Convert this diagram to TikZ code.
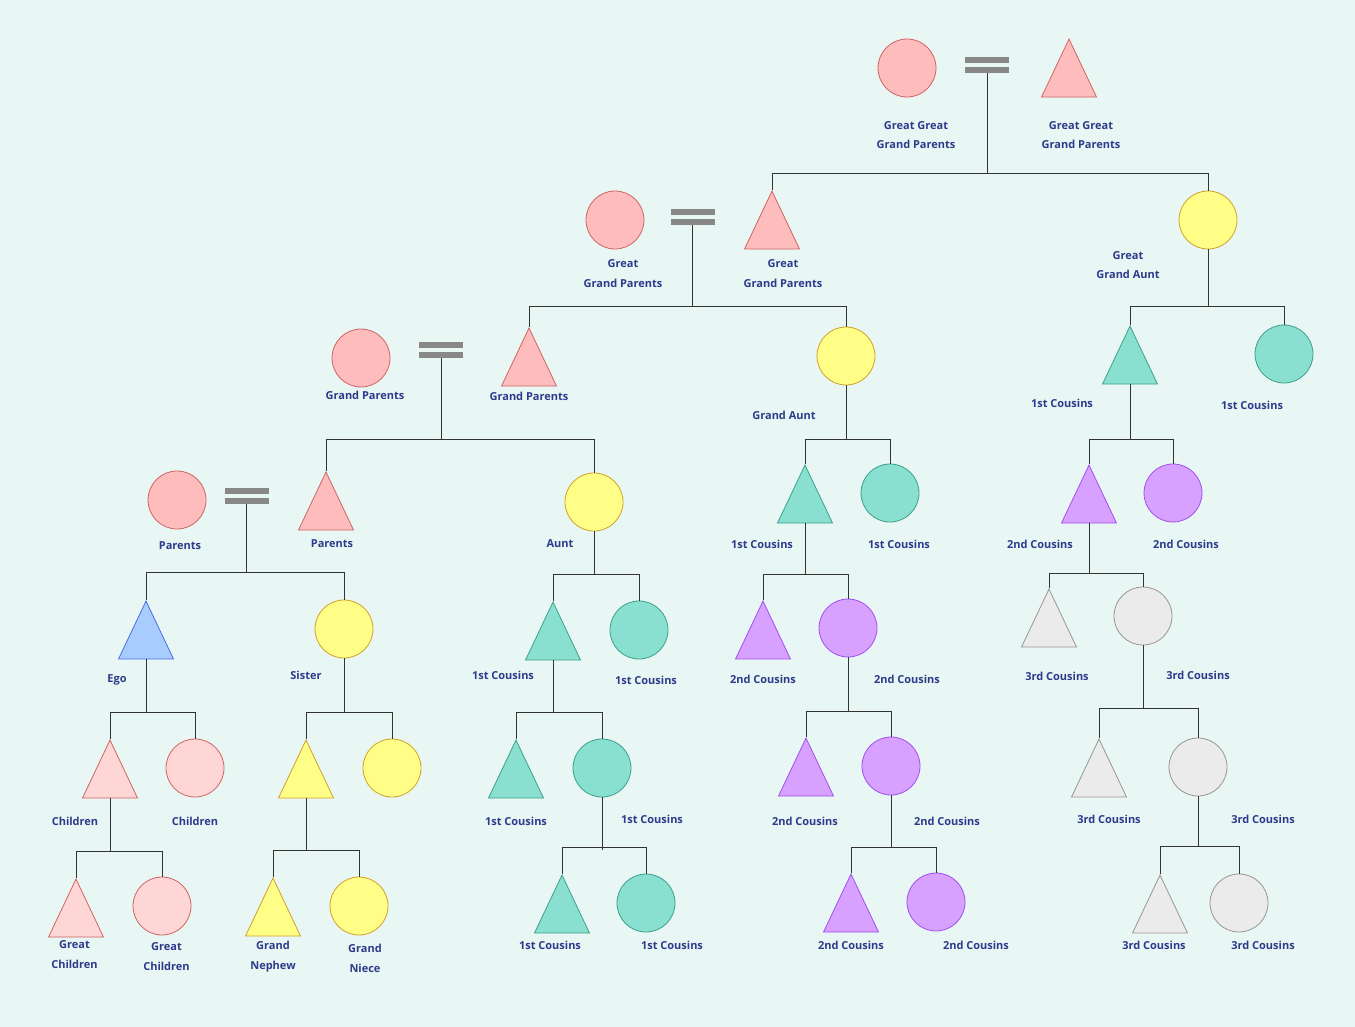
\documentclass[tikz,border=0pt]{standalone}
\usepackage{fontspec}
\setmainfont{Open Sans}
\usetikzlibrary{shapes.geometric}
\definecolor{bg}{RGB}{232,247,243}
\definecolor{txt}{RGB}{46,58,140}
\definecolor{lncol}{RGB}{51,51,51}
\definecolor{bargray}{RGB}{136,136,136}
\definecolor{pinkF}{RGB}{255,188,188}
\definecolor{pinkD}{RGB}{208,100,100}
\definecolor{lpinkF}{RGB}{255,214,214}
\definecolor{yelF}{RGB}{255,255,136}
\definecolor{yelD}{RGB}{210,160,40}
\definecolor{tealF}{RGB}{138,224,208}
\definecolor{tealD}{RGB}{60,160,140}
\definecolor{purF}{RGB}{216,160,255}
\definecolor{purD}{RGB}{160,80,240}
\definecolor{greyF}{RGB}{235,235,235}
\definecolor{greyD}{RGB}{150,150,150}
\definecolor{bluF}{RGB}{169,204,255}
\definecolor{bluD}{RGB}{70,110,230}
\begin{document}
\begin{tikzpicture}[x=1pt,y=-1pt,
  per/.style={circle, draw, minimum size=58pt, inner sep=0pt, line width=0.8pt},
  tri/.style={isosceles triangle, isosceles triangle stretches, shape border rotate=90,
     minimum width=55pt, minimum height=58pt, inner sep=0pt, draw, anchor=apex, line width=0.8pt},
  pk/.style={fill=pinkF, draw=pinkD},
  lp/.style={fill=lpinkF, draw=pinkD},
  ye/.style={fill=yelF, draw=yelD},
  te/.style={fill=tealF, draw=tealD},
  pu/.style={fill=purF, draw=purD},
  gr/.style={fill=greyF, draw=greyD},
  bl/.style={fill=bluF, draw=bluD},
  lbl/.style={text=txt, font=\fontsize{11}{19.5}\selectfont\bfseries, align=center, inner sep=0pt},
  ln/.style={draw=lncol, line width=1pt},
  bar/.style={rectangle, fill=bargray, minimum width=44pt, minimum height=6pt, inner sep=0pt},
]
\fill[bg] (0,0) rectangle (1355,1027);
\useasboundingbox (0,0) rectangle (1355,1027);

% ---------- level 1
\node[per,pk] (ggc) at (907,68) {};
\node[bar] (m1a) at (987,60) {};
\node[bar] (m1) at (987,70) {};
\node[tri,pk] (ggt) at (1069,38) {};
\node[lbl] (lggc) at (916,135) {Great Great\\Grand Parents};
\node[lbl] (lggt) at (1081,135) {Great Great\\Grand Parents};
\coordinate (h1) at (0,174);

% ---------- level 2
\node[per,pk] (gc) at (615,220) {};
\node[bar] (m2a) at (692.5,212) {};
\node[bar] (m2) at (692.5,222) {};
\node[tri,pk] (gt) at (772,190) {};
\node[per,ye] (gga) at (1208,220) {};
\node[lbl] (lgc) at (623,273.5) {Great\\Grand Parents};
\node[lbl] (lgt) at (783,273.5) {Great\\Grand Parents};
\node[lbl] (lgga) at (1128,265) {Great\\Grand Aunt};
\coordinate (h2) at (0,306);

% ---------- level 3
\node[per,pk] (gpc) at (361,358) {};
\node[bar] (m3a) at (441,345) {};
\node[bar] (m3) at (441,355) {};
\node[tri,pk] (gpt) at (529,327) {};
\node[per,ye] (gac) at (846,356) {};
\node[tri,te] (c1t) at (1130,325) {};
\node[per,te] (c1c) at (1284,354) {};
\node[lbl] (lgpc) at (365,395) {Grand Parents};
\node[lbl] (lgpt) at (529,396) {Grand Parents};
\node[lbl] (lgac) at (784,415) {Grand Aunt};
\node[lbl] (lc1t) at (1062,403) {1st Cousins};
\node[lbl] (lc1c) at (1252,405) {1st Cousins};
\coordinate (h3) at (0,439);

% ---------- level 4
\node[per,pk] (pc) at (177,500) {};
\node[bar] (m4a) at (246.5,491) {};
\node[bar] (m4) at (246.5,501) {};
\node[tri,pk] (pt) at (326,471) {};
\node[per,ye] (ac) at (594,502) {};
\node[tri,te] (c1t2) at (805,464) {};
\node[per,te] (c1c2) at (890,493) {};
\node[tri,pu] (c2t) at (1089,464) {};
\node[per,pu] (c2c) at (1173,493) {};
\node[lbl] (lpc) at (180,546) {Parents};
\node[lbl] (lpt) at (332,544) {Parents};
\node[lbl] (lac) at (560,544) {Aunt};
\node[lbl] (lc1t2) at (762,544) {1st Cousins};
\node[lbl] (lc1c2) at (899,544) {1st Cousins};
\node[lbl] (lc2t) at (1040,544) {2nd Cousins};
\node[lbl] (lc2c) at (1186,544) {2nd Cousins};
\coordinate (h4) at (0,572);
\coordinate (h4b) at (0,574);

% ---------- level 5
\node[tri,bl] (ego) at (146,600) {};
\node[per,ye] (sis) at (344,629) {};
\node[tri,te] (c1t3) at (553,601) {};
\node[per,te] (c1c3) at (639,630) {};
\node[tri,pu] (c2t2) at (763,600) {};
\node[per,pu] (c2c2) at (848,628) {};
\node[tri,gr] (c3t) at (1049,588) {};
\node[per,gr] (c3c) at (1143,616) {};
\node[lbl] (lego) at (117,680) {Ego};
\node[lbl] (lsis) at (306,675) {Sister};
\node[lbl] (lc1t3) at (503,675) {1st Cousins};
\node[lbl] (lc1c3) at (646,680) {1st Cousins};
\node[lbl] (lc2t2) at (763,679) {2nd Cousins};
\node[lbl] (lc2c2) at (907,679) {2nd Cousins};
\node[lbl] (lc3t) at (1057,676) {3rd Cousins};
\node[lbl] (lc3c) at (1198,675) {3rd Cousins};

% ---------- level 6
\node[tri,lp] (cht) at (110,739) {};
\node[per,lp] (chc) at (195,768) {};
\node[tri,ye] (nt) at (306,739) {};
\node[per,ye] (nc) at (392,768) {};
\node[tri,te] (c1t4) at (516,739) {};
\node[per,te] (c1c4) at (602,768) {};
\node[tri,pu] (c2t3) at (806,737) {};
\node[per,pu] (c2c3) at (891,766) {};
\node[tri,gr] (c3t2) at (1099,738) {};
\node[per,gr] (c3c2) at (1198,767) {};
\node[lbl] (lcht) at (75,821) {Children};
\node[lbl] (lchc) at (195,821) {Children};
\node[lbl] (lc1t4) at (516,821) {1st Cousins};
\node[lbl] (lc1c4) at (652,819) {1st Cousins};
\node[lbl] (lc2t3) at (805,821) {2nd Cousins};
\node[lbl] (lc2c3) at (947,821) {2nd Cousins};
\node[lbl] (lc3t2) at (1109,819) {3rd Cousins};
\node[lbl] (lc3c2) at (1263,819) {3rd Cousins};

% ---------- level 7
\node[tri,lp] (gct) at (76,878) {};
\node[per,lp] (gcc) at (162,906) {};
\node[tri,ye] (gnt) at (273,877) {};
\node[per,ye] (gnc) at (359,906) {};
\node[tri,te] (c1t5) at (562,874) {};
\node[per,te] (c1c5) at (646,903) {};
\node[tri,pu] (c2t4) at (851,873) {};
\node[per,pu] (c2c4) at (936,902) {};
\node[tri,gr] (c3t3) at (1160,874) {};
\node[per,gr] (c3c3) at (1239,903) {};
\node[lbl] (lgct) at (74.5,954.5) {Great\\Children};
\node[lbl] (lgcc) at (166.5,956.5) {Great\\Children};
\node[lbl] (lgnt) at (273,956.5) {Grand\\Nephew};
\node[lbl] (lgnc) at (365,958.5) {Grand\\Niece};
\node[lbl] (lc1t5) at (550,945) {1st Cousins};
\node[lbl] (lc1c5) at (672,945) {1st Cousins};
\node[lbl] (lc2t4) at (851,945) {2nd Cousins};
\node[lbl] (lc2c4) at (976,945) {2nd Cousins};
\node[lbl] (lc3t3) at (1154,945) {3rd Cousins};
\node[lbl] (lc3c3) at (1263,945) {3rd Cousins};

% ---------- connectors
\coordinate (y711) at (0,711);
\coordinate (y712) at (0,712);
\coordinate (y708) at (0,708);
\coordinate (y573) at (0,573);
\coordinate (y851) at (0,851);
\coordinate (y850) at (0,850);
\coordinate (y847) at (0,847);
\coordinate (y846) at (0,846);

\draw[ln] (m1.south) -- (m1.south |- h1);
\draw[ln] (gt.apex) -- (gt.apex |- h1) -- (gga.north |- h1) -- (gga.north);

\draw[ln] (m2.south) -- (m2.south |- h2);
\draw[ln] (gpt.apex) -- (gpt.apex |- h2) -- (gac.north |- h2) -- (gac.north);
\draw[ln] (gga.south) -- (gga.south |- h2);
\draw[ln] (c1t.apex) -- (c1t.apex |- h2) -- (c1c.north |- h2) -- (c1c.north);

\draw[ln] (m3.south) -- (m3.south |- h3);
\draw[ln] (pt.apex) -- (pt.apex |- h3) -- (ac.north |- h3) -- (ac.north);
\draw[ln] (gac.south) -- (gac.south |- h3);
\draw[ln] (c1t2.apex) -- (c1t2.apex |- h3) -- (c1c2.north |- h3) -- (c1c2.north);
\draw[ln] (c1t.lower side) -- (c1t.lower side |- h3);
\draw[ln] (c2t.apex) -- (c2t.apex |- h3) -- (c2c.north |- h3) -- (c2c.north);

\draw[ln] (m4.south) -- (m4.south |- h4);
\draw[ln] (ego.apex) -- (ego.apex |- h4) -- (sis.north |- h4) -- (sis.north);
\draw[ln] (ac.south) -- (ac.south |- h4b);
\draw[ln] (c1t3.apex) -- (c1t3.apex |- h4b) -- (c1c3.north |- h4b) -- (c1c3.north);
\draw[ln] (c1t2.lower side) -- (c1t2.lower side |- h4b);
\draw[ln] (c2t2.apex) -- (c2t2.apex |- h4b) -- (c2c2.north |- h4b) -- (c2c2.north);
\draw[ln] (c2t.lower side) -- (c2t.lower side |- y573);
\draw[ln] (c3t.apex) -- (c3t.apex |- y573) -- (c3c.north |- y573) -- (c3c.north);

\draw[ln] (ego.lower side) -- (ego.lower side |- y712);
\draw[ln] (cht.apex) -- (cht.apex |- y712) -- (chc.north |- y712) -- (chc.north);
\draw[ln] (sis.south) -- (sis.south |- y712);
\draw[ln] (nt.apex) -- (nt.apex |- y712) -- (nc.north |- y712) -- (nc.north);
\draw[ln] (c1t3.lower side) -- (c1t3.lower side |- y712);
\draw[ln] (c1t4.apex) -- (c1t4.apex |- y712) -- (c1c4.north |- y712) -- (c1c4.north);
\draw[ln] (c2c2.south) -- (c2c2.south |- y711);
\draw[ln] (c2t3.apex) -- (c2t3.apex |- y711) -- (c2c3.north |- y711) -- (c2c3.north);
\draw[ln] (c3c.south) -- (c3c.south |- y708);
\draw[ln] (c3t2.apex) -- (c3t2.apex |- y708) -- (c3c2.north |- y708) -- (c3c2.north);

\draw[ln] (cht.lower side) -- (cht.lower side |- y851);
\draw[ln] (gct.apex) -- (gct.apex |- y851) -- (gcc.north |- y851) -- (gcc.north);
\draw[ln] (nt.lower side) -- (nt.lower side |- y850);
\draw[ln] (gnt.apex) -- (gnt.apex |- y850) -- (gnc.north |- y850) -- (gnc.north);
\draw[ln] (c1c4.south) -- (c1c4.south |- y850);
\draw[ln] (c1t5.apex) -- (c1t5.apex |- y847) -- (c1c5.north |- y847) -- (c1c5.north);
\draw[ln] (c2c3.south) -- (c2c3.south |- y847);
\draw[ln] (c2t4.apex) -- (c2t4.apex |- y847) -- (c2c4.north |- y847) -- (c2c4.north);
\draw[ln] (c3c2.south) -- (c3c2.south |- y846);
\draw[ln] (c3t3.apex) -- (c3t3.apex |- y846) -- (c3c3.north |- y846) -- (c3c3.north);
\end{tikzpicture}
\end{document}
